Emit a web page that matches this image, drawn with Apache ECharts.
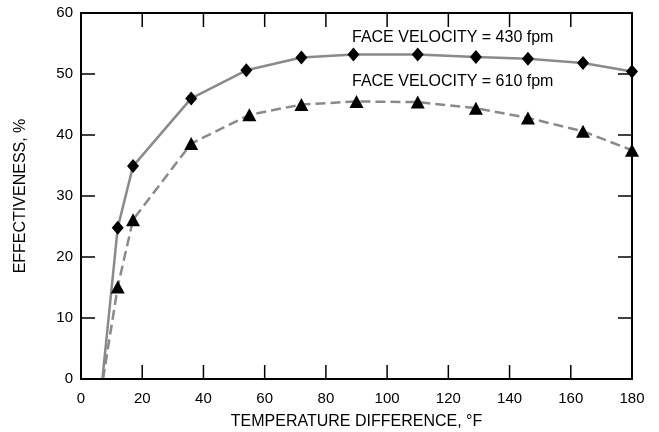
<!DOCTYPE html>
<html>
<head>
<meta charset="utf-8">
<script src="https://cdn.jsdelivr.net/npm/echarts@6/dist/echarts.min.js"></script>
<style>
  html, body { margin: 0; padding: 0; background: #fff; }
  #chart { width: 659px; height: 432px; }
</style>
</head>
<body>
<div id="chart"></div>
<script>
// temperature difference (°F) and effectiveness (%)
const tempDiff430 = [7, 12, 17, 36, 54, 72, 89, 110, 129, 146, 164, 180];
const eff430 = [0, 24.8, 34.9, 46, 50.6, 52.7, 53.2, 53.2, 52.8, 52.5, 51.8, 50.4];
const tempDiff610 = [7.2, 12, 17, 36, 55, 72, 90, 110, 129, 146, 164, 180];
const eff610 = [0, 15.1, 26.1, 38.6, 43.3, 45, 45.5, 45.4, 44.4, 42.8, 40.6, 37.5];
// inner tick marks on all four sides
const xTicks = [20, 40, 60, 80, 100, 120, 140, 160];
const yTicks = [10, 20, 30, 40, 50];

const font = 'Liberation Sans, Arial, sans-serif';
const TICK_LEN = 14;
const X_MAX = 180, Y_MAX = 60;

// first point sits on the axis with no marker
const toData = (xs, ys) => xs.map((x, i) => i === 0
    ? {value: [x, ys[i]], symbol: 'none'}
    : [x, ys[i]]);

const chart = echarts.init(document.getElementById('chart'));

const axisLine = (onZero) => ({show: true, onZero: onZero, lineStyle: {color: '#000', width: 2}});
const nameStyle = {fontFamily: font, fontSize: 16, color: '#000'};
const tickStyle = {stroke: '#000', lineWidth: 1.5};

// tick pair (bottom + top) for one x value
const renderXTick = (params, api) => {
    const b = api.coord([api.value(0), 0]);
    const t = api.coord([api.value(0), Y_MAX]);
    return {
        type: 'group',
        children: [
            {type: 'line', shape: {x1: b[0], y1: b[1], x2: b[0], y2: b[1] - TICK_LEN}, style: tickStyle},
            {type: 'line', shape: {x1: t[0], y1: t[1], x2: t[0], y2: t[1] + TICK_LEN}, style: tickStyle}
        ]
    };
};
// tick pair (left + right) for one y value
const renderYTick = (params, api) => {
    const l = api.coord([0, api.value(1)]);
    const r = api.coord([X_MAX, api.value(1)]);
    return {
        type: 'group',
        children: [
            {type: 'line', shape: {x1: l[0], y1: l[1], x2: l[0] + TICK_LEN, y2: l[1]}, style: tickStyle},
            {type: 'line', shape: {x1: r[0], y1: r[1], x2: r[0] - TICK_LEN, y2: r[1]}, style: tickStyle}
        ]
    };
};

chart.setOption({
    animation: false,
    grid: {show: false, left: 81, right: 27, top: 13, bottom: 53, outerBoundsMode: 'none'},
    xAxis: [
        {
            type: 'value', z: 10,
            min: 0, max: X_MAX, interval: 20,
            name: 'TEMPERATURE DIFFERENCE, °F',
            nameLocation: 'middle',
            nameGap: 35,
            nameTextStyle: nameStyle,
            axisLine: axisLine(true),
            axisTick: {show: false},
            axisLabel: {fontFamily: font, fontSize: 15, color: '#000', margin: 12},
            splitLine: {show: false}
        },
        {
            type: 'value', position: 'top', z: 10,
            min: 0, max: X_MAX, interval: 20,
            axisLine: axisLine(false), axisTick: {show: false},
            axisLabel: {show: false}, splitLine: {show: false}
        }
    ],
    yAxis: [
        {
            type: 'value', z: 10,
            min: 0, max: Y_MAX, interval: 10,
            name: 'EFFECTIVENESS, %',
            nameLocation: 'middle',
            nameGap: 52,
            nameTextStyle: nameStyle,
            axisLine: axisLine(true),
            axisTick: {show: false},
            axisLabel: {fontFamily: font, fontSize: 15, color: '#000', margin: 8},
            splitLine: {show: false}
        },
        {
            type: 'value', position: 'right', z: 10,
            min: 0, max: Y_MAX, interval: 10,
            axisLine: axisLine(false), axisTick: {show: false},
            axisLabel: {show: false}, splitLine: {show: false}
        }
    ],
    series: [
        {
            type: 'custom', silent: true, clip: false, z: 1,
            renderItem: renderXTick,
            data: xTicks.map(v => [v, 0])
        },
        {
            type: 'custom', silent: true, clip: false, z: 1,
            renderItem: renderYTick,
            data: yTicks.map(v => [0, v])
        },
        {
            name: 'FACE VELOCITY = 430 fpm',
            type: 'line',
            data: toData(tempDiff430, eff430),
            symbol: 'diamond',
            symbolSize: [12, 14],
            itemStyle: {color: '#000'},
            lineStyle: {color: '#8a8a8a', width: 2.5, type: 'solid'},
            z: 3
        },
        {
            name: 'FACE VELOCITY = 610 fpm',
            type: 'line',
            data: toData(tempDiff610, eff610),
            symbol: 'triangle',
            symbolSize: [14, 13],
            itemStyle: {color: '#000'},
            lineStyle: {color: '#8a8a8a', width: 2.5, type: [10, 5]},
            z: 3
        }
    ],
    graphic: [
        {
            type: 'text', left: 352, top: 30,
            style: {text: 'FACE VELOCITY = 430 fpm', font: '16px ' + font, fill: '#000'}
        },
        {
            type: 'text', left: 352, top: 74,
            style: {text: 'FACE VELOCITY = 610 fpm', font: '16px ' + font, fill: '#000'}
        }
    ]
});
</script>
</body>
</html>
